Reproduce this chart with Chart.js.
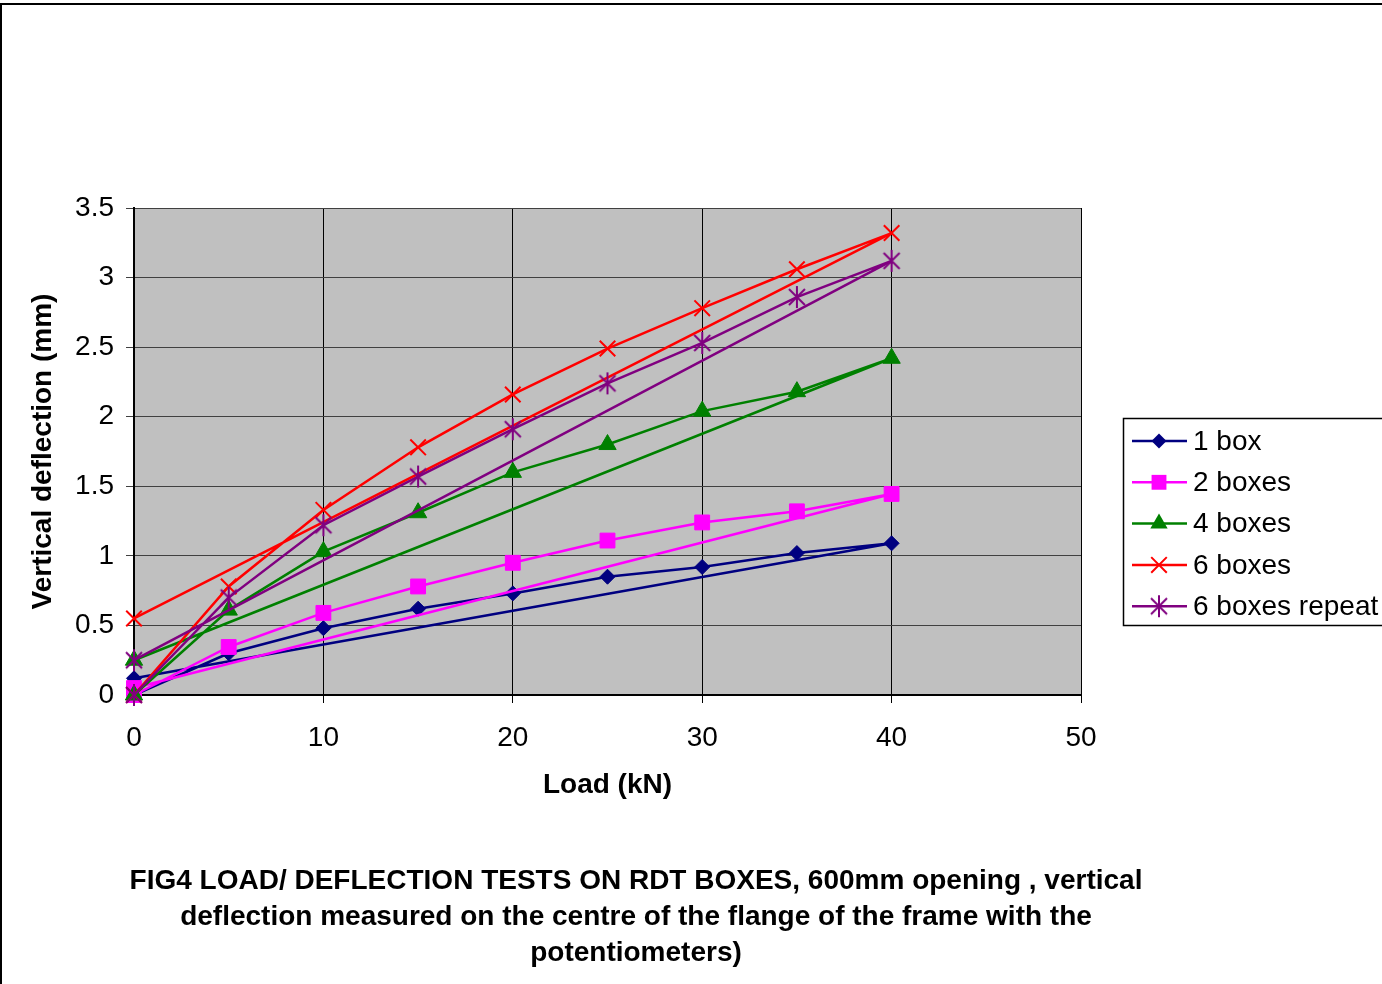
<!DOCTYPE html>
<html>
<head>
<meta charset="utf-8">
<style>
  html, body { margin: 0; padding: 0; background: #fff; }
  #wrap { position: relative; width: 1382px; height: 984px; overflow: hidden; }
  #caption {
    position: absolute; left: 86px; width: 1100px; top: 862px;
    text-align: center; white-space: nowrap; color: #000;
    font: bold 28px "Liberation Sans", Arial, sans-serif; line-height: 36px;
  }
</style>
<script src="https://cdn.jsdelivr.net/npm/chart.js@4"></script>
</head>
<body>
<div id="wrap">
  <canvas id="myChart" width="1382" height="984"></canvas>
  <div id="caption">FIG4 LOAD/ DEFLECTION TESTS ON RDT BOXES, 600mm opening , vertical<br>deflection measured on the centre of the flange of the frame with the<br>potentiometers)</div>
</div>
<script>
// load goes up 0..40 then straight back to 0
const loads = [0, 5, 10, 15, 20, 25, 30, 35, 40, 0];
const oneBox = [0, 0.30, 0.48, 0.62, 0.73, 0.85, 0.92, 1.02, 1.09, 0.12];
const twoBoxes = [0, 0.345, 0.59, 0.78, 0.95, 1.11, 1.24, 1.32, 1.445, 0.05];
const fourBoxes = [0, 0.61, 1.03, 1.31, 1.60, 1.80, 2.04, 2.18, 2.42, 0.25];
const sixBoxes = [0, 0.78, 1.33, 1.78, 2.16, 2.49, 2.78, 3.06, 3.32, 0.55];
const sixBoxesRepeat = [0, 0.70, 1.22, 1.57, 1.91, 2.24, 2.53, 2.86, 3.12, 0.25];

const seriesNames = ["1 box", "2 boxes", "4 boxes", "6 boxes", "6 boxes repeat"];
const xTicks = [0, 10, 20, 30, 40, 50];
const yTicks = [0, 0.5, 1, 1.5, 2, 2.5, 3, 3.5];

const FONT = '"Liberation Sans", Arial, sans-serif';

// excel style asterisk marker: an x with a vertical bar
const star = document.createElement('canvas');
star.width = 24; star.height = 24;
(function () {
  const c = star.getContext('2d');
  c.strokeStyle = '#800080';
  c.lineWidth = 2;
  c.beginPath();
  c.moveTo(4, 4); c.lineTo(20, 20);
  c.moveTo(20, 4); c.lineTo(4, 20);
  c.moveTo(12, 1); c.lineTo(12, 23);
  c.stroke();
})();

const styles = [
  { color: '#000080', pointStyle: 'rectRot', radius: 7.5 },
  { color: '#FF00FF', pointStyle: 'rect', radius: 10.5 },
  { color: '#008000', pointStyle: 'triangle', radius: 10 },
  { color: '#FF0000', pointStyle: 'crossRot', radius: 11 },
  { color: '#800080', pointStyle: star, radius: 12 }
];

const values = [oneBox, twoBoxes, fourBoxes, sixBoxes, sixBoxesRepeat];

const datasets = values.map((vals, i) => ({
  label: seriesNames[i],
  data: vals.map((v, j) => ({ x: loads[j], y: v })),
  showLine: true,
  borderColor: styles[i].color,
  backgroundColor: styles[i].color,
  borderWidth: 2.5,
  pointStyle: styles[i].pointStyle,
  pointRadius: styles[i].radius,
  pointHoverRadius: styles[i].radius,
  pointBorderWidth: i == 3 ? 2 : 1,
  tension: 0,
  clip: false,
  order: 5 - i
}));

const plotBackground = {
  id: 'plotBackground',
  beforeDraw(chart) {
    const { ctx, chartArea: a } = chart;
    ctx.save();
    ctx.fillStyle = '#C0C0C0';
    ctx.fillRect(a.left, a.top, a.right - a.left, a.bottom - a.top);
    ctx.restore();
  }
};

function drawMarker(ctx, i, x, y) {
  const s = styles[i];
  ctx.fillStyle = s.color;
  ctx.strokeStyle = s.color;
  ctx.lineWidth = 2;
  ctx.beginPath();
  if (s.pointStyle === 'rectRot') {
    const r = s.radius;
    ctx.moveTo(x - r, y); ctx.lineTo(x, y - r); ctx.lineTo(x + r, y); ctx.lineTo(x, y + r);
    ctx.closePath(); ctx.fill();
  } else if (s.pointStyle === 'rect') {
    const h = s.radius * Math.SQRT1_2;
    ctx.fillRect(x - h, y - h, 2 * h, 2 * h);
  } else if (s.pointStyle === 'triangle') {
    const r = s.radius;
    ctx.moveTo(x, y - r);
    ctx.lineTo(x + r * Math.sin(2 * Math.PI / 3), y + r / 2);
    ctx.lineTo(x - r * Math.sin(2 * Math.PI / 3), y + r / 2);
    ctx.closePath(); ctx.fill();
  } else if (s.pointStyle === 'crossRot') {
    const o = s.radius * Math.SQRT1_2;
    ctx.moveTo(x - o, y - o); ctx.lineTo(x + o, y + o);
    ctx.moveTo(x + o, y - o); ctx.lineTo(x - o, y + o);
    ctx.stroke();
  } else {
    ctx.drawImage(star, x - 12, y - 12);
  }
}

const boxLegend = {
  id: 'boxLegend',
  afterDraw(chart) {
    const ctx = chart.ctx;
    ctx.save();
    ctx.strokeStyle = '#000';
    ctx.lineWidth = 1.5;
    ctx.strokeRect(1123.5, 418.5, 300, 207);
    ctx.font = '28px ' + FONT;
    ctx.textBaseline = 'middle';
    seriesNames.forEach((name, i) => {
      const y = 441 + i * 41.3;
      ctx.strokeStyle = styles[i].color;
      ctx.lineWidth = 2.5;
      ctx.beginPath();
      ctx.moveTo(1132, y); ctx.lineTo(1187, y);
      ctx.stroke();
      drawMarker(ctx, i, 1159, y);
      ctx.fillStyle = '#000';
      ctx.fillText(name, 1193, y + 1);
    });
    // outer frame of the figure
    ctx.strokeStyle = '#000';
    ctx.lineWidth = 2;
    ctx.strokeRect(1, 4, 1400, 1000);
    ctx.restore();
  }
};

const ctx = document.getElementById('myChart').getContext('2d');

const myChart = new Chart(ctx, {
  type: 'scatter',
  data: { datasets: datasets },
  plugins: [plotBackground, boxLegend],
  options: {
    responsive: false,
    animation: false,
    devicePixelRatio: 1,
    layout: { padding: { left: 0, top: 208, right: 301, bottom: 179 } },
    plugins: {
      legend: { display: false },
      tooltip: { enabled: false }
    },
    scales: {
      x: {
        type: 'linear',
        min: 0,
        max: 50,
        afterBuildTicks: axis => { axis.ticks = xTicks.map(v => ({ value: v })); },
        afterFit: scale => { scale.height = 110; },
        grid: { color: '#000', lineWidth: 1, tickLength: 8, tickColor: '#000' },
        border: { color: '#000', width: 2 },
        ticks: { color: '#000', font: { family: FONT, size: 28 }, padding: 18, maxRotation: 0,
                 callback: v => String(v) },
        title: {
          display: true,
          text: 'Load (kN)',
          color: '#000',
          font: { family: FONT, size: 28, weight: 'bold' },
          padding: { top: 0, bottom: 3 }
        }
      },
      y: {
        type: 'linear',
        min: 0,
        max: 3.5,
        afterBuildTicks: axis => { axis.ticks = yTicks.map(v => ({ value: v })); },
        afterFit: scale => { scale.width = 134; },
        grid: { color: '#404040', lineWidth: 1, tickLength: 8, tickColor: '#404040' },
        border: { color: '#000', width: 2 },
        ticks: { color: '#000', font: { family: FONT, size: 28 }, padding: 12,
                 callback: v => String(v) },
        title: {
          display: true,
          text: 'Vertical deflection (mm)',
          color: '#000',
          font: { family: FONT, size: 28, weight: 'bold' },
          padding: { top: 26, bottom: 0 }
        }
      }
    }
  }
});
</script>
</body>
</html>
